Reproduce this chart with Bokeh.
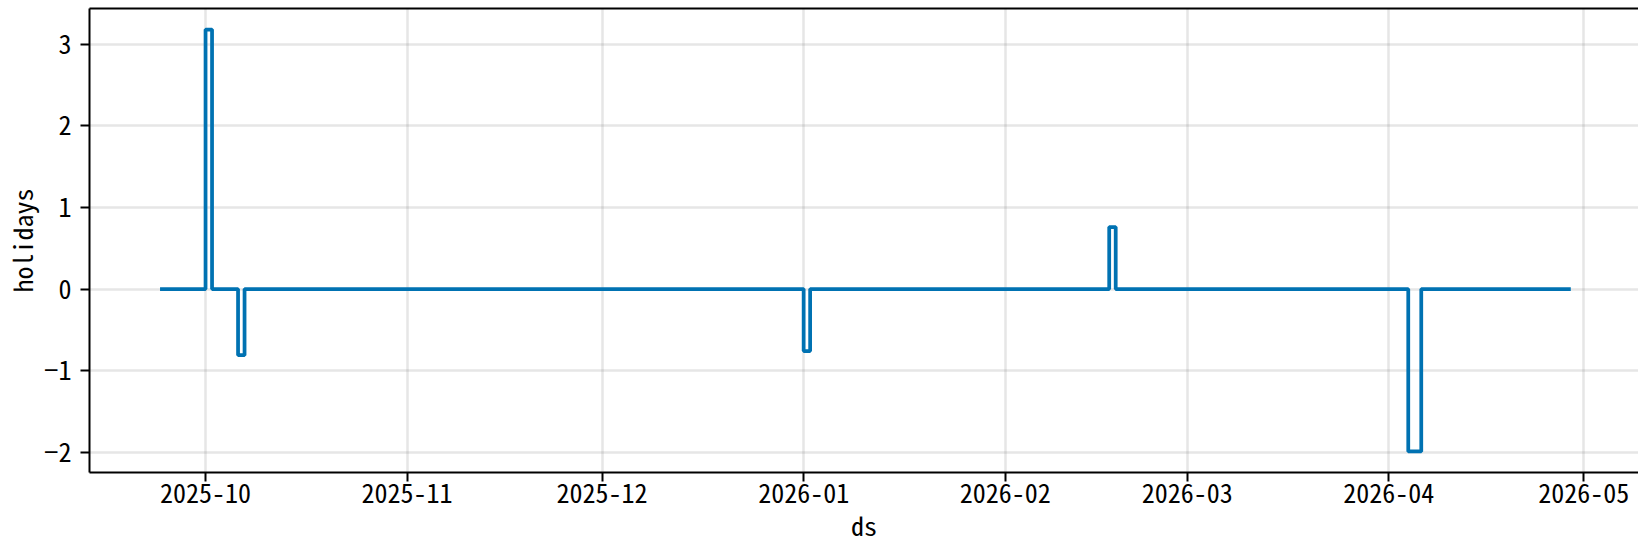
import pandas as pd
import numpy as np
from bokeh.plotting import figure
from bokeh.models import (Range1d, FixedTicker, MonthsTicker, DatetimeTickFormatter,
                          LinearAxis)
from bokeh.embed import file_html
from bokeh.resources import INLINE

# ---- data ----
start_date = "2025-09-24"
end_date = "2026-04-29"
holiday_dates = ["2025-10-01", "2025-10-06", "2026-01-01", "2026-02-17",
                 "2026-04-04", "2026-04-05"]
holiday_values = [3.18, -0.81, -0.76, 0.76, -1.99, -1.99]
y_ticks = [-2, -1, 0, 1, 2, 3]
y_tick_labels = {-2: "\u22122", -1: "\u22121", 0: "0", 1: "1", 2: "2", 3: "3"}

ds = pd.date_range(start_date, end_date, freq="D")
holidays = pd.Series(0.0, index=ds)
holidays.loc[pd.to_datetime(holiday_dates)] = holiday_values

FONT = "Noto Sans Mono CJK JP"
FS = "26px"

t0, t1 = ds[0], ds[-1]
span = t1 - t0
vmin, vmax = min(holiday_values), max(holiday_values)
vr = vmax - vmin

p = figure(x_axis_type="datetime", output_backend="svg", toolbar_location=None,
           width=1638, height=546,
           min_border_left=89, min_border_right=0, min_border_top=8, min_border_bottom=74,
           x_range=Range1d(t0 - 0.05 * span, t1 + 0.048 * span),
           y_range=Range1d(vmin - 0.05 * vr, vmax + 0.05 * vr))
p.outline_line_color = None
p.background_fill_color = "white"
p.border_fill_color = "white"

p.step(x=ds, y=holidays.values, mode="after", line_color="#0072B2", line_width=3.75)

# axes
xa = p.xaxis[0]
xa.ticker = MonthsTicker(months=list(range(12)))
xa.formatter = DatetimeTickFormatter(months="%Y-%m", days="%Y-%m", years="%Y-%m")
ya = p.yaxis[0]
ya.ticker = FixedTicker(ticks=y_ticks)
ya.major_label_overrides = y_tick_labels
for ax in (xa, ya):
    ax.axis_line_width = 2
    ax.axis_line_color = "black"
    ax.major_tick_line_width = 2
    ax.major_tick_out = 9
    ax.major_tick_in = 0
    ax.minor_tick_out = 0
    ax.minor_tick_in = 0
    ax.major_label_text_font = FONT
    ax.major_label_text_font_size = FS
    ax.major_label_text_color = "black"
    ax.axis_label_text_font = FONT
    ax.axis_label_text_font_size = FS
    ax.axis_label_text_font_style = "normal"
    ax.axis_label_text_color = "black"
xa.axis_label = "ds"
ya.axis_label = "holidays"
xa.major_label_standoff = 2
ya.major_label_standoff = 9
xa.axis_label_standoff = 0
ya.axis_label_standoff = 1

# top spine
top = LinearAxis(ticker=FixedTicker(ticks=[]), major_tick_out=0, major_tick_in=0,
                 minor_tick_out=0, minor_tick_in=0, major_label_standoff=0,
                 axis_line_width=2, axis_line_color="black",
                 major_label_text_font_size="0px")
p.add_layout(top, "above")

p.grid.grid_line_color = "gray"
p.grid.grid_line_alpha = 0.2
p.grid.grid_line_width = 2.5

open("out.html", "w").write(file_html(p, INLINE))
